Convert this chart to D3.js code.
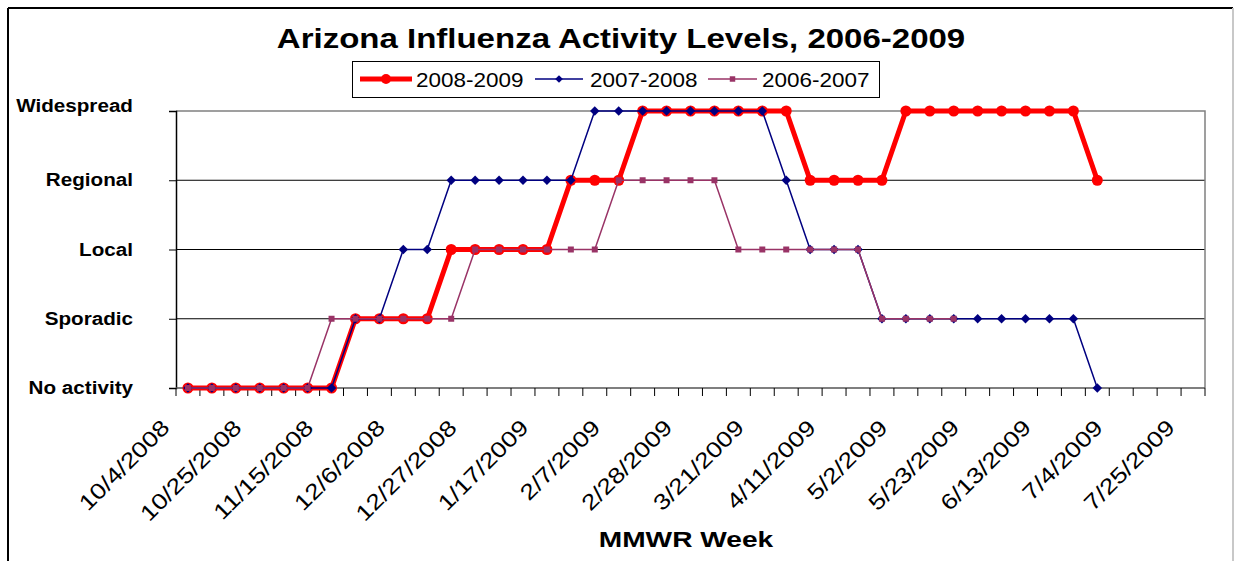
<!DOCTYPE html>
<html>
<head>
<meta charset="utf-8">
<script src="https://d3js.org/d3.v7.min.js"></script>
<style>
  body { margin: 0; background: #fff; }
  text { font-family: Arial, "Liberation Sans", sans-serif; }
</style>
</head>
<body>
<script>
// categories: MMWR week ending dates
var weeks = ['10/4/2008','10/11/2008','10/18/2008','10/25/2008','11/1/2008','11/8/2008','11/15/2008',
  '11/22/2008','11/29/2008','12/6/2008','12/13/2008','12/20/2008','12/27/2008','1/3/2009','1/10/2009',
  '1/17/2009','1/24/2009','1/31/2009','2/7/2009','2/14/2009','2/21/2009','2/28/2009','3/7/2009',
  '3/14/2009','3/21/2009','3/28/2009','4/4/2009','4/11/2009','4/18/2009','4/25/2009','5/2/2009',
  '5/9/2009','5/16/2009','5/23/2009','5/30/2009','6/6/2009','6/13/2009','6/20/2009','6/27/2009',
  '7/4/2009','7/11/2009','7/18/2009','7/25/2009'];

// activity levels, 0 = No activity ... 4 = Widespread
var levels = ['No activity','Sporadic','Local','Regional','Widespread'];

var s2008_2009 = [0,0,0,0,0,0,0,1,1,1,1,2,2,2,2,2,3,3,3,4,4,4,4,4,4,4,3,3,3,3,4,4,4,4,4,4,4,4,3];
var s2007_2008 = [0,0,0,0,0,0,0,1,1,2,2,3,3,3,3,3,3,4,4,4,4,4,4,4,4,3,2,2,2,1,1,1,1,1,1,1,1,1,0];
var s2006_2007 = [0,0,0,0,0,0,1,1,1,1,1,1,2,2,2,2,2,2,3,3,3,3,3,2,2,2,2,2,2,1,1,1,1];

var seriesNames = ['2008-2009','2007-2008','2006-2007'];

var W = 1236, H = 561;
var svg = d3.select('body').append('svg').attr('width', W).attr('height', H);

var x = d3.scaleBand().domain(weeks).range([176, 1205]);
var y = d3.scaleLinear().domain([0, 4]).range([388, 111]);
var bw = x.bandwidth();
var cx = function(i) { return x(weeks[i]) + bw / 2; };

// stretch text horizontally like the original rendering
function stretch(sel, f) {
  sel.each(function() {
    var w = this.getComputedTextLength();
    d3.select(this).attr('textLength', w * f).attr('lengthAdjust', 'spacingAndGlyphs');
  });
}

// outer frame
svg.append('line').attr('x1', 8).attr('y1', 8).attr('x2', 1233).attr('y2', 8)
  .attr('stroke', '#000').attr('stroke-width', 2);
svg.append('line').attr('x1', 8).attr('y1', 8).attr('x2', 8).attr('y2', H)
  .attr('stroke', '#000').attr('stroke-width', 2);
svg.append('line').attr('x1', 1233).attr('y1', 8).attr('x2', 1233).attr('y2', H)
  .attr('stroke', '#c8c8c8').attr('stroke-width', 2);

// title
svg.append('text').attr('x', 621).attr('y', 48).attr('text-anchor', 'middle')
  .style('font-size', '27.5px').style('font-weight', 'bold')
  .text('Arizona Influenza Activity Levels, 2006-2009')
  .call(stretch, 1.2);

// gridlines
svg.append('g').selectAll('line').data([1, 2, 3]).enter().append('line')
  .attr('x1', 176).attr('x2', 1205)
  .attr('y1', function(d) { return y(d); }).attr('y2', function(d) { return y(d); })
  .attr('stroke', '#000').attr('stroke-width', 1);

// plot border top/right
svg.append('path')
  .attr('d', 'M176,' + y(4) + 'H1205V' + y(0))
  .attr('fill', 'none').attr('stroke', '#808080').attr('stroke-width', 1.5);

// y axis
var yAxis = svg.append('g').attr('transform', 'translate(176,0)')
  .call(d3.axisLeft(y).tickValues([0, 1, 2, 3, 4]).tickSize(7).tickPadding(36)
    .tickFormat(function(d) { return levels[d]; }));
yAxis.select('.domain').attr('stroke', '#000').attr('stroke-width', 1.5);
yAxis.selectAll('text').style('font-size', '17.5px').style('font-weight', 'bold')
  .style('font-family', 'Arial, "Liberation Sans", sans-serif').attr('fill', '#000')
  .attr('dy', function(d) { return d === 4 ? '0em' : '0.32em'; })
  .call(stretch, 1.18);

// x axis line
svg.append('line').attr('x1', 176).attr('x2', 1205).attr('y1', y(0)).attr('y2', y(0))
  .attr('stroke', '#555').attr('stroke-width', 1.5);

// x tick marks at category boundaries
var bounds = weeks.map(function(d) { return x(d); }).concat([x.range()[1]]);
svg.append('g').selectAll('line').data(bounds).enter().append('line')
  .attr('x1', function(d) { return d; }).attr('x2', function(d) { return d; })
  .attr('y1', y(0)).attr('y2', y(0) + 8)
  .attr('stroke', '#000').attr('stroke-width', 1);

// x tick labels every 3rd week
svg.append('g').selectAll('text')
  .data(weeks.map(function(d, i) { return {d: d, i: i}; }).filter(function(o) { return o.i % 3 === 0; }))
  .enter().append('text')
  .attr('text-anchor', 'end')
  .attr('transform', function(o) { return 'translate(' + (cx(o.i) - 17) + ',429) rotate(-45)'; })
  .style('font-size', '22px')
  .text(function(o) { return o.d; })
  .call(stretch, 1.2);

// x axis title
svg.append('text').attr('x', 686).attr('y', 547).attr('text-anchor', 'middle')
  .style('font-size', '22.5px').style('font-weight', 'bold')
  .text('MMWR Week')
  .call(stretch, 1.25);

// series
var line = d3.line().x(function(v, i) { return cx(i); }).y(function(v) { return y(v); });

// 2008-2009
var gR = svg.append('g');
gR.append('path').datum(s2008_2009).attr('d', line)
  .attr('fill', 'none').attr('stroke', '#ff0000').attr('stroke-width', 5).attr('stroke-linejoin', 'round');
gR.selectAll('circle').data(s2008_2009).enter().append('circle')
  .attr('cx', function(v, i) { return cx(i); }).attr('cy', function(v) { return y(v); })
  .attr('r', 5.5).attr('fill', '#ff0000');

// 2007-2008
var gB = svg.append('g');
gB.append('path').datum(s2007_2008).attr('d', line)
  .attr('fill', 'none').attr('stroke', '#000080').attr('stroke-width', 1.5);
gB.selectAll('path.m').data(s2007_2008).enter().append('path').attr('class', 'm')
  .attr('d', d3.symbol(d3.symbolSquare, 45)())
  .attr('transform', function(v, i) { return 'translate(' + cx(i) + ',' + y(v) + ') rotate(45)'; })
  .attr('fill', '#000080');

// 2006-2007
var gP = svg.append('g');
gP.append('path').datum(s2006_2007).attr('d', line)
  .attr('fill', 'none').attr('stroke', '#993366').attr('stroke-width', 1.5);
gP.selectAll('path.m').data(s2006_2007).enter().append('path').attr('class', 'm')
  .attr('d', d3.symbol(d3.symbolSquare, 36)())
  .attr('transform', function(v, i) { return 'translate(' + cx(i) + ',' + y(v) + ')'; })
  .attr('fill', '#993366');

// legend
var lg = svg.append('g');
lg.append('rect').attr('x', 352.5).attr('y', 61.5).attr('width', 527).attr('height', 36)
  .attr('fill', '#fff').attr('stroke', '#000').attr('stroke-width', 1);
var items = [
  {name: seriesNames[0], x0: 360, x1: 412, tx: 416, color: '#ff0000', sw: 5, mk: 'circle'},
  {name: seriesNames[1], x0: 535, x1: 583, tx: 590, color: '#000080', sw: 1.5, mk: 'diamond'},
  {name: seriesNames[2], x0: 708, x1: 757, tx: 762, color: '#993366', sw: 1.5, mk: 'square'}
];
items.forEach(function(it) {
  var ly = 79;
  lg.append('line').attr('x1', it.x0).attr('x2', it.x1).attr('y1', ly).attr('y2', ly)
    .attr('stroke', it.color).attr('stroke-width', it.sw);
  var mx = (it.x0 + it.x1) / 2;
  if (it.mk === 'circle') {
    lg.append('circle').attr('cx', mx).attr('cy', ly).attr('r', 5).attr('fill', it.color);
  } else if (it.mk === 'diamond') {
    lg.append('path').attr('d', d3.symbol(d3.symbolSquare, 30)())
      .attr('transform', 'translate(' + mx + ',' + ly + ') rotate(45)').attr('fill', it.color);
  } else {
    lg.append('path').attr('d', d3.symbol(d3.symbolSquare, 30)())
      .attr('transform', 'translate(' + mx + ',' + ly + ')').attr('fill', it.color);
  }
  lg.append('text').attr('x', it.tx).attr('y', 86.5).style('font-size', '21px')
    .text(it.name).call(stretch, 1.07);
});
</script>
</body>
</html>
